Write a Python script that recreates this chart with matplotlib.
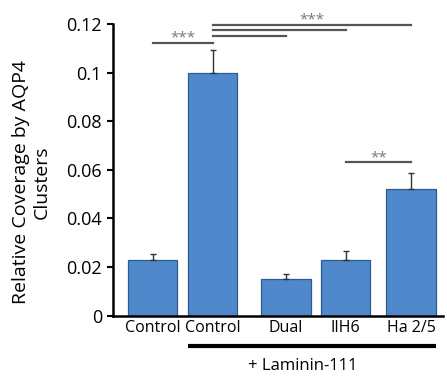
import matplotlib
matplotlib.use("Agg")
import matplotlib.pyplot as plt

plt.rcParams['font.family'] = ['Open Sans', 'DejaVu Sans']

categories = ["Control", "Control", "Dual", "IIH6", "Ha 2/5"]
means = [0.023, 0.100, 0.015, 0.023, 0.052]
errors = [0.0025, 0.0095, 0.002, 0.0035, 0.0068]
yticks = [0, 0.02, 0.04, 0.06, 0.08, 0.1, 0.12]
ytick_labels = ["0", "0.02", "0.04", "0.06", "0.08", "0.1", "0.12"]
group_label = "+ Laminin-111"

# (from index, to index, line height, stars)
sig_pairs = [
    (0, 1, 0.1122, "***"),
    (1, 2, 0.1152, ""),
    (1, 3, 0.1174, ""),
    (1, 4, 0.1196, "***"),
    (3, 4, 0.0631, "**"),
]

x_pos = [0.0, 1.0, 2.225, 3.217, 4.308]
bar_w = 0.82

fig = plt.figure(figsize=(4.47, 3.78), dpi=100)
ax = fig.add_axes([0.253, 0.165, 0.738, 0.7715])

ax.bar(x_pos, means, width=bar_w, color="#4F88CB", edgecolor="#2D5C93",
       linewidth=0.9, zorder=2)
ax.errorbar(x_pos, means, yerr=[[0]*len(errors), errors], fmt="none",
            ecolor="#333333", elinewidth=1.0, capsize=2.0, capthick=1.0, zorder=3)

ax.set_xlim(-0.658, 4.84)
ax.set_ylim(0, 0.12)
ax.set_yticks(yticks)
ax.set_yticklabels(ytick_labels, fontsize=13)
ax.set_xticks(x_pos)
ax.set_xticklabels(categories, fontsize=11.5)
ax.tick_params(axis="x", length=0, pad=3)
ax.tick_params(axis="y", direction="out", length=4, width=1.5, pad=4)
for s in ["top", "right"]:
    ax.spines[s].set_visible(False)
ax.spines["left"].set_linewidth(1.8)
ax.spines["bottom"].set_linewidth(1.8)

fig.text(0.0705, 0.519, "Relative Coverage by AQP4\nClusters", rotation=90,
         ha="center", va="center", fontsize=14, linespacing=1.2,
         multialignment="center")

for i, j, h, stars in sig_pairs:
    ax.plot([x_pos[i], x_pos[j]], [h, h], color="#555555", lw=1.6,
            clip_on=False, zorder=4)
    if stars:
        xm = (x_pos[i] + x_pos[j]) / 2
        ax.text(xm, h - 0.0012, stars, ha="center", va="bottom",
                fontsize=11, color="#777777", clip_on=False)

# bracket grouping the laminin-treated conditions
trans = ax.get_xaxis_transform()
ax.plot([x_pos[1] - bar_w / 2, x_pos[4] + bar_w / 2], [-0.1045, -0.1045],
        color="black", lw=3, transform=trans, clip_on=False,
        solid_capstyle="butt")
ax.text((x_pos[1] + x_pos[4]) / 2 - 0.15, -0.173, group_label, ha="center",
        va="center", fontsize=12, transform=trans)

fig.savefig("out.png", dpi=100)
